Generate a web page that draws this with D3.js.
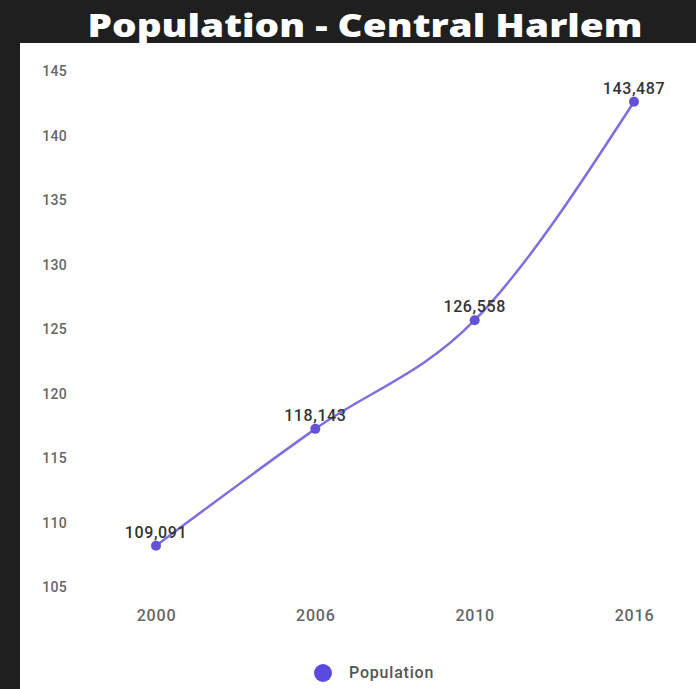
<!DOCTYPE html>
<html>
<head>
<meta charset="utf-8">
<script src="https://cdn.jsdelivr.net/npm/d3@7"></script>
<style>
html,body{margin:0;padding:0;background:#1f1f1f;}
svg{display:block;}
</style>
</head>
<body>
<svg id="chart" width="696" height="689"></svg>
<script>
const years = ["2000", "2006", "2010", "2016"];
const population = [109.091, 118.143, 126.558, 143.487];
const valueLabels = ["109,091", "118,143", "126,558", "143,487"];
const yTicks = [105, 110, 115, 120, 125, 130, 135, 140, 145];
const seriesName = "Population";
const titleText = "Population - Central Harlem";

const svg = d3.select("#chart");
const W = 696, H = 689;

svg.append("rect").attr("x",0).attr("y",0).attr("width",W).attr("height",H).attr("fill","#1f1f1f");
svg.append("rect").attr("x",20).attr("y",43).attr("width",W-20).attr("height",H-43).attr("fill","#ffffff");

svg.append("text")
  .attr("x", 365).attr("y", 37)
  .attr("text-anchor","middle")
  .attr("font-family","'Open Sans', Lato, sans-serif")
  .attr("font-weight", 800)
  .attr("font-size", 32)
  .attr("textLength", 555)
  .attr("lengthAdjust","spacingAndGlyphs")
  .attr("fill","#ffffff")
  .text(titleText);

const x = d3.scalePoint().domain(years).range([156, 634]).padding(0);
const y = d3.scaleLinear().domain([105, 145]).range([598.5, 82.2]);

// y axis labels (drawn slightly above their tick positions)
const yAxis = d3.axisLeft(y).tickValues(yTicks).tickSize(0).tickPadding(0);
const gy = svg.append("g").attr("transform","translate(67,-11)").call(yAxis);
gy.select(".domain").remove();
gy.selectAll("text")
  .attr("font-family","Roboto, sans-serif")
  .attr("font-weight", 500)
  .attr("font-size", 14)
  .attr("letter-spacing", "0.3px")
  .attr("fill","#666666");

const xAxis = d3.axisBottom(x).tickSize(0).tickPadding(0);
const gx = svg.append("g").attr("transform","translate(0,610)").call(xAxis);
gx.select(".domain").remove();
gx.selectAll("text")
  .attr("font-family","Roboto, sans-serif")
  .attr("font-weight", 500)
  .attr("font-size", 16)
  .attr("letter-spacing", "0.8px")
  .attr("fill","#666666");

const data = years.map((yr,i)=>({yr, v: population[i], label: valueLabels[i]}));

const line = d3.line().x(d=>x(d.yr)).y(d=>y(d.v)).curve(d3.curveMonotoneX);
svg.append("path").datum(data)
  .attr("d", line)
  .attr("fill","none")
  .attr("stroke","#7e6fe0")
  .attr("stroke-width",2.5);

svg.selectAll("circle.pt").data(data).enter().append("circle")
  .attr("class","pt")
  .attr("cx", d=>x(d.yr)).attr("cy", d=>y(d.v))
  .attr("r", 5)
  .attr("fill","#6452d6");

svg.selectAll("text.val").data(data).enter().append("text")
  .attr("class","val")
  .attr("x", d=>x(d.yr)).attr("y", d=>y(d.v)-8)
  .attr("text-anchor","middle")
  .attr("font-family","Roboto, sans-serif")
  .attr("font-weight", 500)
  .attr("font-size", 16)
  .attr("letter-spacing", "0.6px")
  .attr("fill","#333333")
  .text(d=>d.label);

// legend
svg.append("circle").attr("cx", 323).attr("cy", 673).attr("r", 9).attr("fill","#5a4be0");
svg.append("text").attr("x", 349).attr("y", 678)
  .attr("font-family","Roboto, sans-serif")
  .attr("font-weight", 500)
  .attr("font-size", 16)
  .attr("letter-spacing", "0.8px")
  .attr("fill","#555555")
  .text(seriesName);
</script>
</body>
</html>
